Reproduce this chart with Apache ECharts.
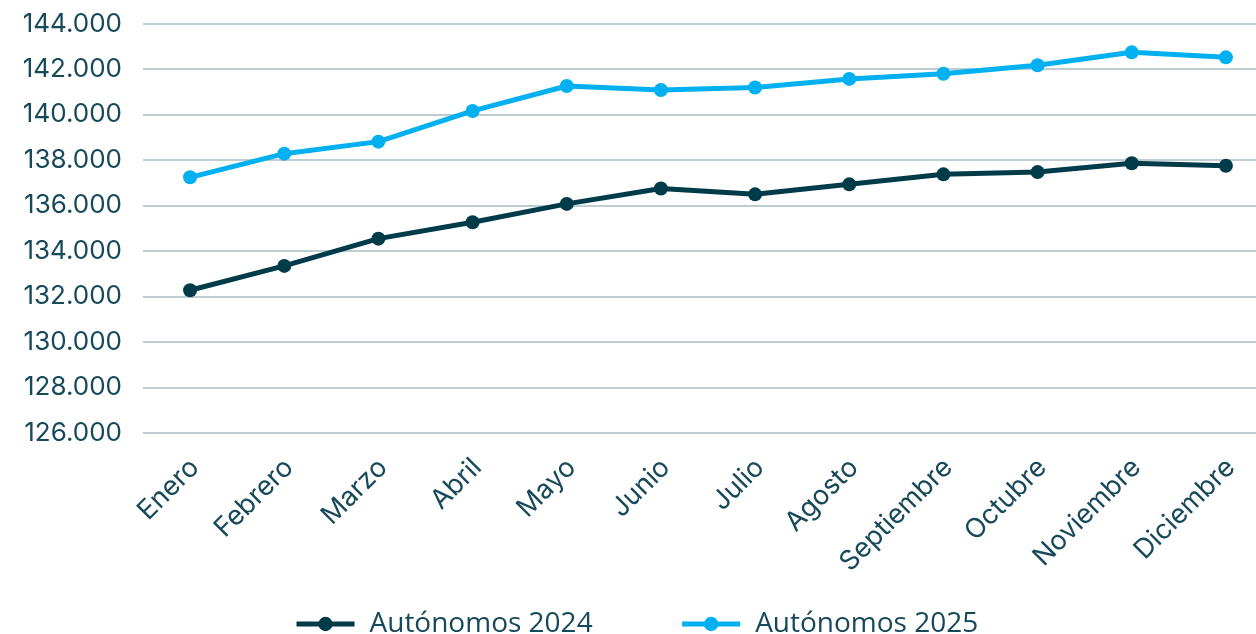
<!DOCTYPE html>
<html>
<head>
<meta charset="utf-8">
<script src="https://cdn.jsdelivr.net/npm/echarts@6/dist/echarts.min.js"></script>
<style>
html,body{margin:0;padding:0;background:#fff;overflow:hidden;}
#c{width:1273px;height:634px;}
</style>
</head>
<body>
<div id="c"></div>
<script>
const months = ['Enero','Febrero','Marzo','Abril','Mayo','Junio','Julio','Agosto','Septiembre','Octubre','Noviembre','Diciembre'];
const autonomos2024 = [132270,133340,134540,135260,136070,136750,136490,136930,137370,137470,137860,137750];
const autonomos2025 = [137240,138280,138810,140160,141260,141080,141190,141570,141800,142170,142740,142520];
const seriesNames = ['Autónomos 2024','Autónomos 2025'];
const yMin = 126000, yMax = 144000, yStep = 2000;

const chart = echarts.init(document.getElementById('c'));
const labelColor = '#17495A';
const fmt = v => {
  const s = String(Math.round(v));
  return s.replace(/\B(?=(\d{3})+(?!\d))/g, '.');
};
chart.setOption({
  animation: false,
  grid: {left: 143, right: 0, top: 23.7, bottom: 201.3, containLabel: false},
  legend: {
    top: 605,
    left: 289,
    itemWidth: 58,
    itemHeight: 18,
    itemGap: 87,
    lineStyle: {width: 5},
    textStyle: {fontFamily: 'Open Sans', fontSize: 28, color: labelColor, padding: [0,0,0,10]},
    data: seriesNames
  },
  xAxis: {
    type: 'category',
    data: months,
    boundaryGap: true,
    axisLine: {show: false},
    axisTick: {show: false},
    axisLabel: {rotate: 45, fontFamily: 'Inter', fontSize: 27, color: labelColor, margin: 16, interval: 0,
                verticalAlign: 'top', padding: [0, 7, 0, 0]}
  },
  yAxis: {
    type: 'value',
    min: yMin, max: yMax, interval: yStep,
    axisLine: {show: false},
    axisTick: {show: false},
    splitLine: {lineStyle: {color: '#A9BDC3', width: 1.5}},
    axisLabel: {fontFamily: 'Inter', fontSize: 26, color: labelColor, margin: 21, formatter: fmt}
  },
  series: [
    {name: seriesNames[0], type: 'line', data: autonomos2024, symbol: 'circle', symbolSize: 14,
     lineStyle: {width: 5, color: '#003B4A'}, itemStyle: {color: '#003B4A'}},
    {name: seriesNames[1], type: 'line', data: autonomos2025, symbol: 'circle', symbolSize: 14,
     lineStyle: {width: 5, color: '#00B0F0'}, itemStyle: {color: '#00B0F0'}}
  ]
});
</script>
</body>
</html>
